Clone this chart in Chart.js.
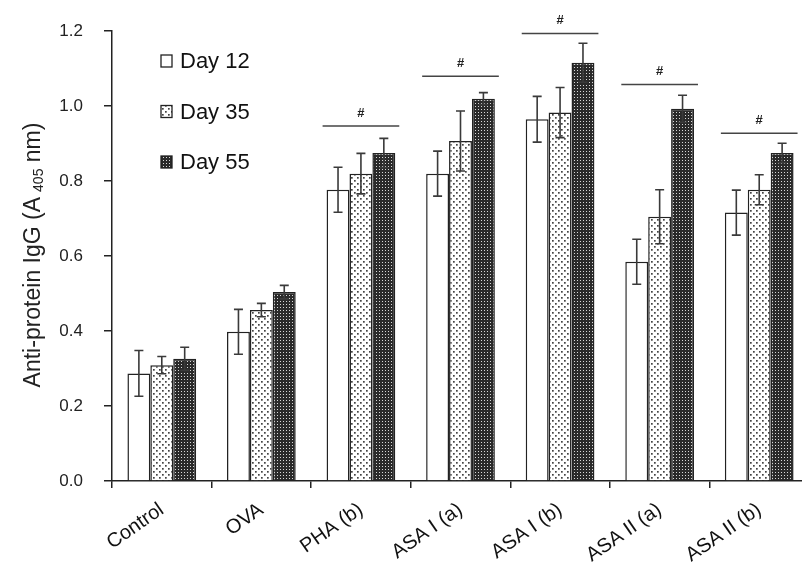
<!DOCTYPE html>
<html>
<head>
<meta charset="utf-8">
<script src="https://cdn.jsdelivr.net/npm/chart.js@4"></script>
<style>
  html, body { margin: 0; padding: 0; background: #fff; }
  #wrap { width: 802px; height: 569px; overflow: hidden; position: relative; }
  canvas { display: block; }
</style>
</head>
<body>
<div id="wrap"><canvas id="c" width="812" height="569"></canvas></div>
<script>
const categories = ['Control', 'OVA', 'PHA (b)', 'ASA I (a)', 'ASA I (b)', 'ASA II (a)', 'ASA II (b)'];
const seriesNames = ['Day 12', 'Day 35', 'Day 55'];

const day12 = [0.287, 0.398, 0.777, 0.820, 0.965, 0.585, 0.716];
const day35 = [0.309, 0.456, 0.820, 0.907, 0.983, 0.705, 0.777];
const day55 = [0.326, 0.504, 0.875, 1.020, 1.116, 0.993, 0.875];

const err12 = [0.061, 0.060, 0.060, 0.060, 0.061, 0.060, 0.060];
const err35 = [0.023, 0.018, 0.054, 0.080, 0.067, 0.072, 0.040];
const err55 = [0.031, 0.018, 0.039, 0.016, 0.052, 0.036, 0.026];

// '#' significance bars, height per group (null = none)
const sigLevels = [null, null, 0.947, 1.080, 1.194, 1.058, 0.928];

const yTicks = [0, 0.2, 0.4, 0.6, 0.8, 1.0, 1.2];

const FONT = '"Liberation Sans", Arial, sans-serif';

function makePattern(w, h, draw) {
  const c = document.createElement('canvas');
  c.width = w; c.height = h;
  const x = c.getContext('2d');
  draw(x);
  return x.createPattern(c, 'repeat');
}

const ctx = document.getElementById('c').getContext('2d');

const plainFill = '#ffffff';
const dotFill = makePattern(6, 6, g => {
  g.fillStyle = '#fff'; g.fillRect(0, 0, 6, 6);
  g.fillStyle = '#444';
  g.fillRect(0, 0, 1.7, 1.7);
  g.fillRect(3, 3, 1.7, 1.7);
});
const darkFill = makePattern(3, 3, g => {
  g.fillStyle = '#2a2a2a'; g.fillRect(0, 0, 3, 3);
  g.fillStyle = '#d8d8d8'; g.fillRect(1, 1, 1, 1);
});

const fills = [plainFill, dotFill, darkFill];
const values = [day12, day35, day55];
const errors = [err12, err35, err55];

const decor = {
  id: 'decor',
  afterDatasetsDraw(chart) {
    const g = chart.ctx;
    const xs = chart.scales.x, ys = chart.scales.y;
    g.save();

    // error bars
    g.strokeStyle = '#3a3a3a';
    g.lineWidth = 1.6;
    values.forEach((vals, i) => {
      const meta = chart.getDatasetMeta(i);
      vals.forEach((v, j) => {
        const bx = meta.data[j].x;
        const yt = ys.getPixelForValue(v + errors[i][j]);
        const yb = ys.getPixelForValue(v - errors[i][j]);
        g.beginPath();
        g.moveTo(bx, yt); g.lineTo(bx, yb);
        g.moveTo(bx - 4.5, yt); g.lineTo(bx + 4.5, yt);
        g.moveTo(bx - 4.5, yb); g.lineTo(bx + 4.5, yb);
        g.stroke();
      });
    });

    // significance lines
    const cw = xs.width / categories.length;
    g.strokeStyle = '#444';
    g.lineWidth = 1.5;
    g.fillStyle = '#222';
    g.font = 'bold 13px ' + FONT;
    g.textAlign = 'center';
    g.textBaseline = 'middle';
    sigLevels.forEach((s, j) => {
      if (s === null) return;
      const cx = xs.getPixelForValue(j);
      const y = ys.getPixelForValue(s);
      g.beginPath();
      g.moveTo(cx - 0.385 * cw, y); g.lineTo(cx + 0.385 * cw, y);
      g.stroke();
      g.fillText('#', cx, y - 13);
    });

    // legend
    g.font = '22px ' + FONT;
    g.textAlign = 'left';
    seriesNames.forEach((name, i) => {
      const cy = 61 + i * 50.5;
      g.fillStyle = fills[i];
      g.fillRect(161, cy - 6, 11, 12);
      g.strokeStyle = '#222';
      g.lineWidth = 1.3;
      g.strokeRect(161, cy - 6, 11, 12);
      g.fillStyle = '#111';
      g.fillText(name, 180, cy + 1);
    });

    // y axis title with subscript
    g.translate(32, 255);
    g.rotate(-Math.PI / 2);
    const p1 = 'Anti-protein IgG (A', sub = '405', p2 = ' nm)';
    g.font = '23px ' + FONT;
    const w1 = g.measureText(p1).width, w3 = g.measureText(p2).width;
    g.font = '14px ' + FONT;
    const w2 = g.measureText(sub).width + 5;
    let x0 = -(w1 + w2 + w3) / 2;
    g.fillStyle = '#222';
    g.textBaseline = 'alphabetic';
    g.font = '23px ' + FONT;
    g.fillText(p1, x0, 8);
    g.font = '14px ' + FONT;
    g.fillText(sub, x0 + w1 + 5, 11);
    g.font = '23px ' + FONT;
    g.fillText(p2, x0 + w1 + w2, 8);
    g.restore();
  }
};

new Chart(ctx, {
  type: 'bar',
  data: {
    labels: categories,
    datasets: values.map((vals, i) => ({
      label: seriesNames[i],
      data: vals,
      backgroundColor: fills[i],
      borderColor: '#222',
      borderWidth: 1.5,
      categoryPercentage: 0.69,
      barPercentage: 1.0,
    })),
  },
  options: {
    responsive: false,
    animation: false,
    devicePixelRatio: 1,
    layout: { padding: { top: 30, right: 3, left: 0, bottom: 0 } },
    plugins: {
      legend: { display: false },
      tooltip: { enabled: false },
    },
    scales: {
      x: {
        grid: { drawOnChartArea: false, drawTicks: true, tickLength: 7, color: '#222', lineWidth: 1.5 },
        border: { display: true, color: '#222', width: 1.5 },
        ticks: {
          color: '#111',
          font: { family: FONT, size: 20 },
          minRotation: 35, maxRotation: 35,
          padding: 10,
          autoSkip: false,
        },
        afterFit: s => { s.height = 88; },
      },
      y: {
        min: 0, max: 1.2,
        afterBuildTicks: s => { s.ticks = yTicks.map(v => ({ value: v })); },
        grid: { drawOnChartArea: false, drawTicks: true, tickLength: 8, color: '#222', lineWidth: 1.5 },
        border: { display: true, color: '#222', width: 1.5 },
        ticks: {
          color: '#222',
          font: { family: FONT, size: 17 },
          padding: 21,
          callback: v => Number(v).toFixed(1),
        },
        afterFit: s => { s.width = 112; },
      },
    },
  },
  plugins: [decor],
});
</script>
</body>
</html>
